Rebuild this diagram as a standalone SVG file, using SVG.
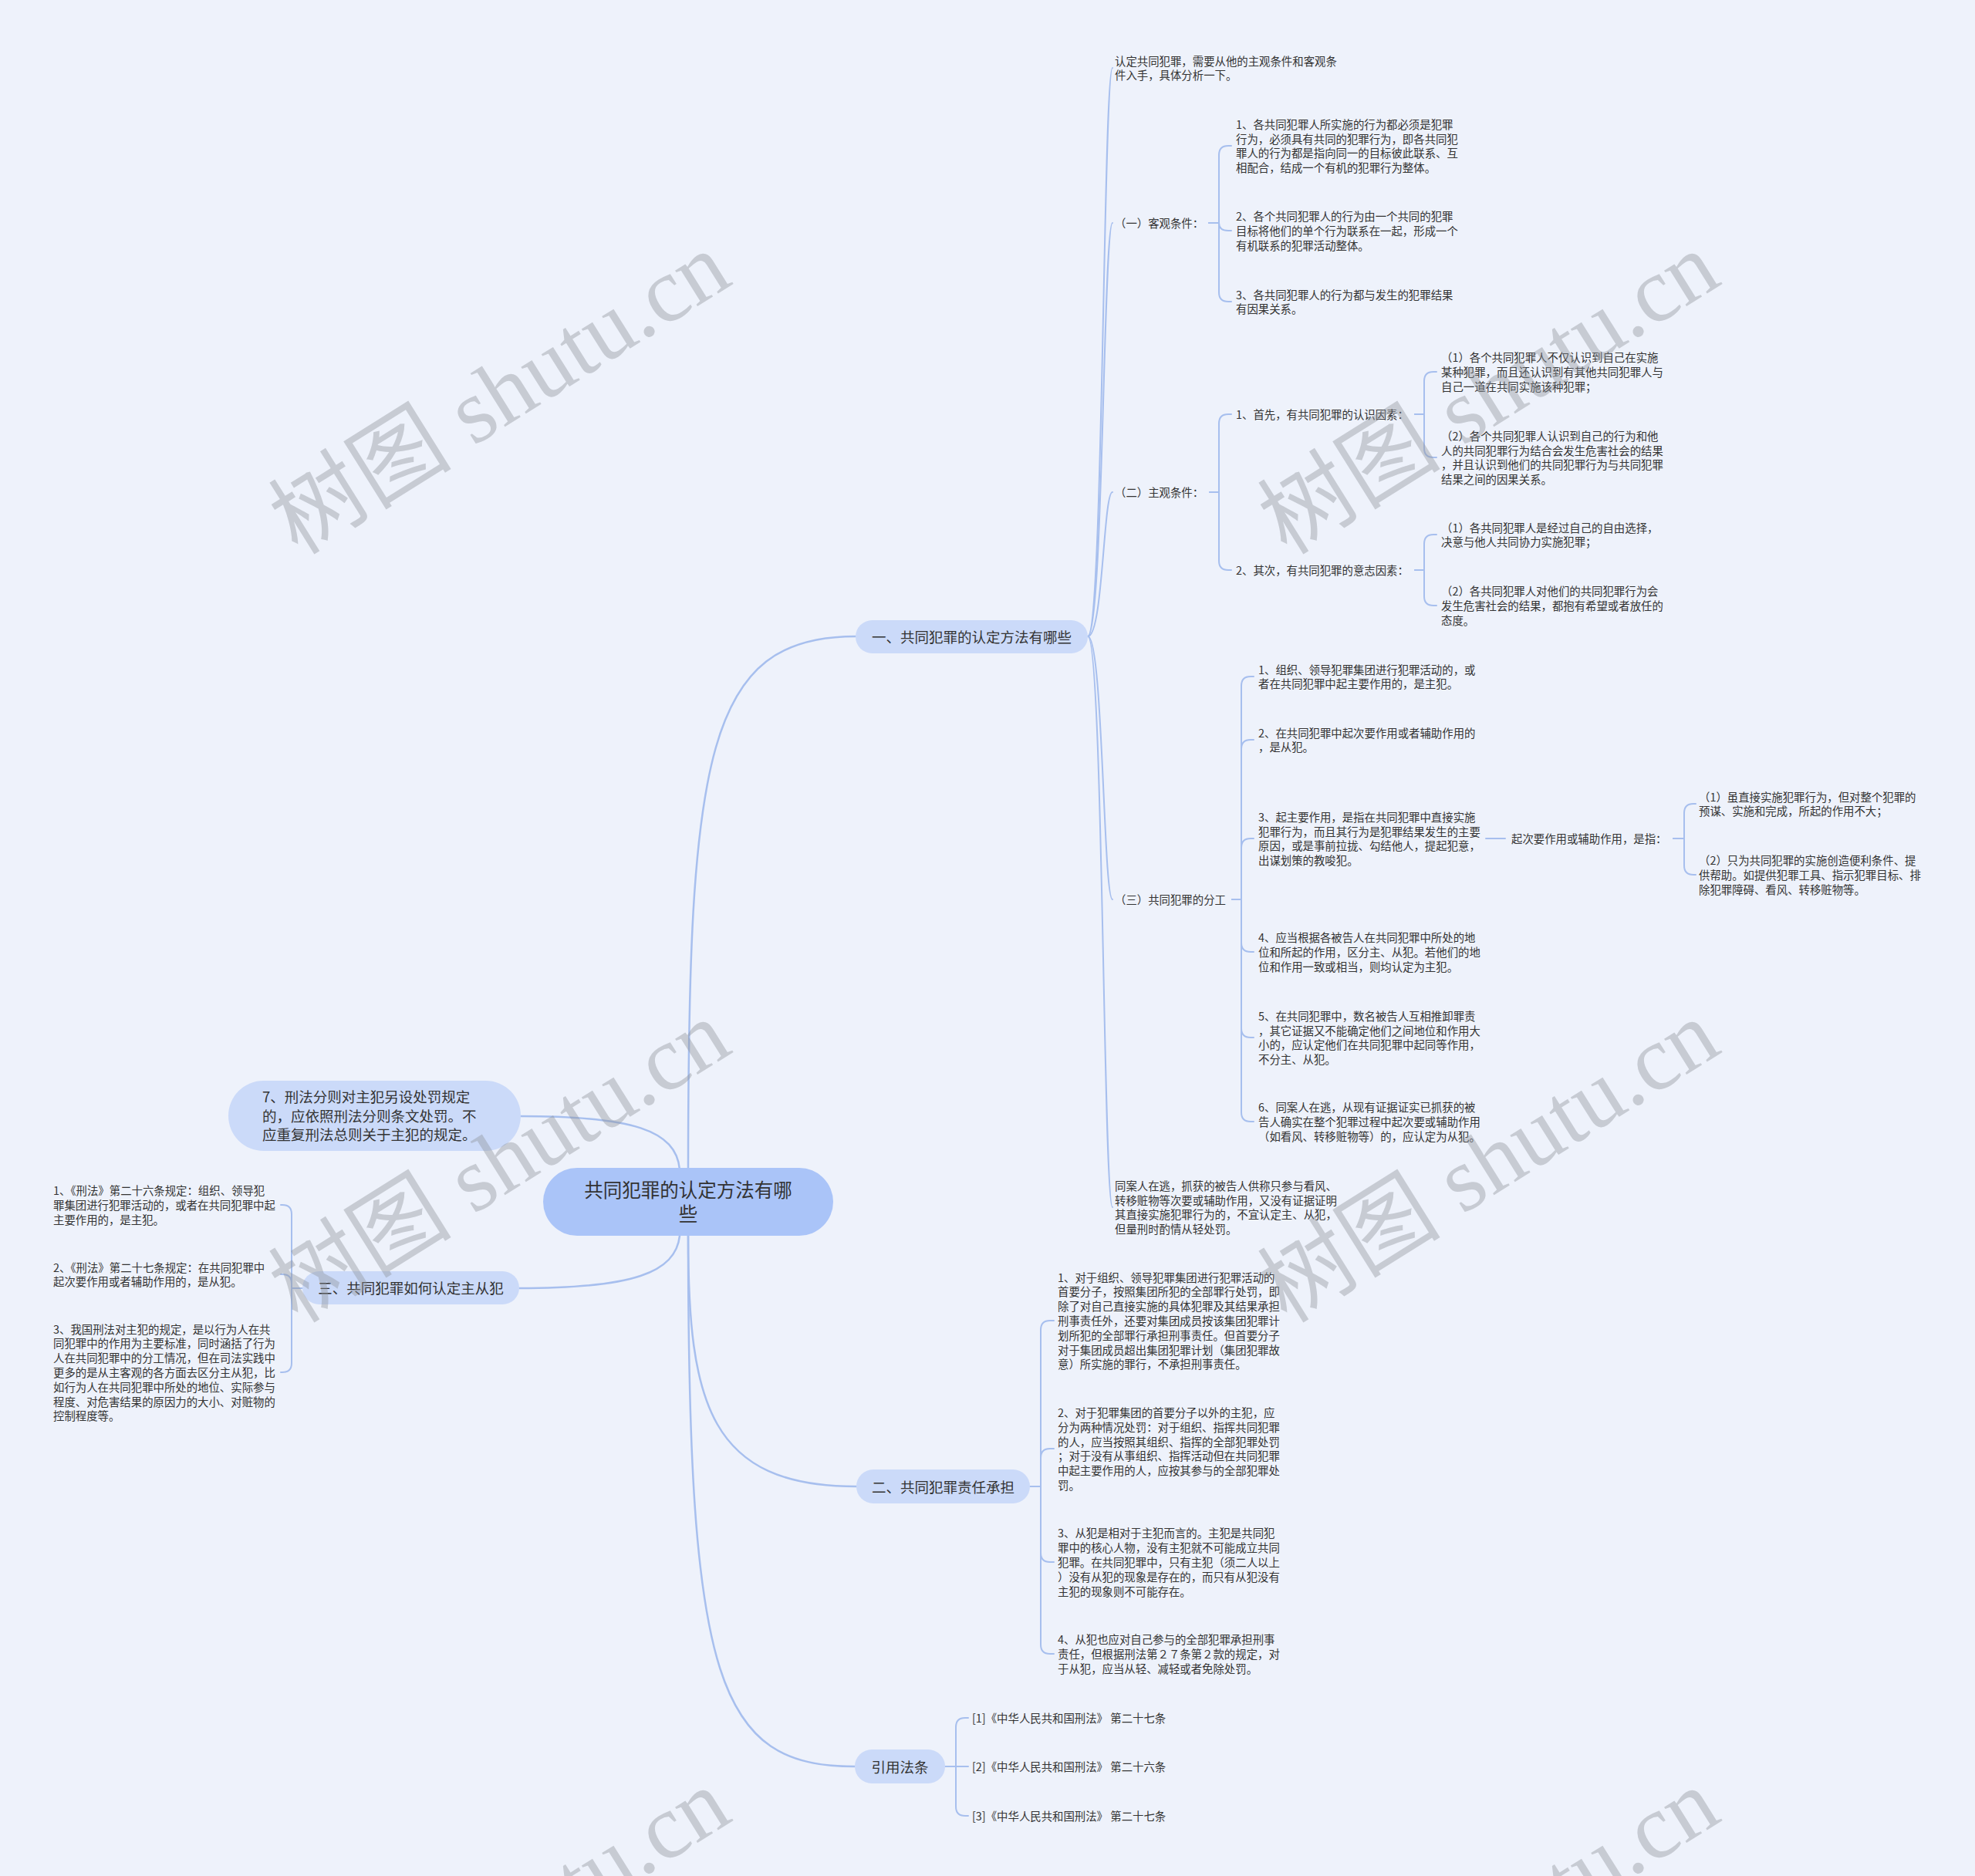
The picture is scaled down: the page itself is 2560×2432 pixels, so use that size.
<svg xmlns="http://www.w3.org/2000/svg" width="2560" height="2432" viewBox="0 0 2560 2432">
<style>
.c{fill:none;stroke:#a7bfee;stroke-width:2;stroke-linecap:round}
.cr{fill:none;stroke:#a7bfee;stroke-width:2.5;stroke-linecap:round}
.t{font-family:"Noto Sans CJK SC","Noto Sans",sans-serif;font-size:14.4px;fill:#333;dominant-baseline:central}
.b{font-size:18.5px;text-anchor:middle}
.bl{font-size:18.5px}
.r{font-size:24.5px;text-anchor:middle}
.p{fill:#cbdaf9}
.pr{fill:#aac4f8}
.wm{font-family:"Liberation Serif","Noto Sans CJK SC",serif;font-size:119px;fill:#8c9099;fill-opacity:0.4;text-anchor:middle;dominant-baseline:central}
</style>
<rect width="2560" height="2432" fill="#eef2fb"/>

<g id="connectors">
<path class="cr" d="M892,1516 C892,980 915,825 1109,825"/>
<path class="cr" d="M892,1602 C892,1820 920,1927 1110,1927"/>
<path class="cr" d="M892,1602 C892,2180 930,2290 1108,2290"/>
<path class="cr" d="M881,1516 C876,1465 820,1447 675,1447"/>
<path class="cr" d="M881,1602 C876,1650 820,1670 673,1670"/>

<path class="c" d="M1410,825 C1430,825 1430,88 1442,88"/>
<path class="c" d="M1410,825 C1430,825 1430,289 1442,289"/>
<path class="c" d="M1410,825 C1430,825 1430,638 1442,638"/>
<path class="c" d="M1410,825 C1430,825 1430,1166 1442,1166"/>
<path class="c" d="M1410,825 C1430,825 1430,1565 1442,1565"/>

<path class="c" d="M1567,289 H1580 V201 Q1580,189 1592,189 H1596"/>
<path class="c" d="M1567,289 H1580 Q1580,299 1592,299 H1596"/>
<path class="c" d="M1567,289 H1580 V379 Q1580,391 1592,391 H1596"/>

<path class="c" d="M1568,638 H1580 V549 Q1580,537 1592,537 H1596"/>
<path class="c" d="M1568,638 H1580 V727 Q1580,739 1592,739 H1596"/>
<path class="c" d="M1834,537 H1846 V494 Q1846,482 1858,482 H1862"/>
<path class="c" d="M1834,537 H1846 V581 Q1846,593 1858,593 H1862"/>
<path class="c" d="M1834,739 H1846 V705 Q1846,693 1858,693 H1862"/>
<path class="c" d="M1834,739 H1846 V773 Q1846,785 1858,785 H1862"/>

<path class="c" d="M1597,1166 H1609 V889 Q1609,877 1621,877 H1625"/>
<path class="c" d="M1597,1166 H1609 V971 Q1609,959 1621,959 H1625"/>
<path class="c" d="M1597,1166 H1609 V1099 Q1609,1087 1621,1087 H1625"/>
<path class="c" d="M1597,1166 H1609 V1222 Q1609,1234 1621,1234 H1625"/>
<path class="c" d="M1597,1166 H1609 V1333 Q1609,1345 1621,1345 H1625"/>
<path class="c" d="M1597,1166 H1609 V1442 Q1609,1454 1621,1454 H1625"/>
<path class="c" d="M1926,1087 H1951"/>
<path class="c" d="M2169,1087 H2183 V1054 Q2183,1042 2195,1042 H2198"/>
<path class="c" d="M2169,1087 H2183 V1122 Q2183,1134 2195,1134 H2198"/>

<path class="c" d="M1335,1927 H1349 V1724 Q1349,1712 1361,1712 H1366"/>
<path class="c" d="M1335,1927 H1349 V1890 Q1349,1878 1361,1878 H1366"/>
<path class="c" d="M1335,1927 H1349 V2013 Q1349,2025 1361,2025 H1366"/>
<path class="c" d="M1335,1927 H1349 V2132 Q1349,2144 1361,2144 H1366"/>

<path class="c" d="M1225,2290 H1239 V2239 Q1239,2227 1251,2227 H1255"/>
<path class="c" d="M1225,2290 H1255"/>
<path class="c" d="M1225,2290 H1239 V2342 Q1239,2354 1251,2354 H1255"/>

<path class="c" d="M392,1670 H378 V1574 Q378,1562 366,1562 H364"/>
<path class="c" d="M392,1670 H378 V1664 Q378,1652 366,1652 H364"/>
<path class="c" d="M392,1670 H378 V1767 Q378,1779 366,1779 H364"/>
</g>

<g id="root">
<rect class="pr" x="704" y="1514" width="376" height="88" rx="44"/>
<text class="t r"><tspan x="892" y="1541">共同犯罪的认定方法有哪</tspan><tspan x="892" y="1572">些</tspan></text>
</g>

<g id="branch1">
<rect class="p" x="1109" y="804" width="301" height="43" rx="21.5"/>
<text class="t b" x="1259.5" y="825">一、共同犯罪的认定方法有哪些</text>
</g>
<g id="n-a"><text class="t"><tspan x="1445" y="77.6">认定共同犯罪，需要从他的主观条件和客观条</tspan><tspan x="1445" y="96.4">件入手，具体分析一下。</tspan></text></g>
<g id="n-b"><text class="t" x="1445" y="288">（一）客观条件：</text></g>
<g id="n-b1"><text class="t"><tspan x="1602" y="159.8">1、各共同犯罪人所实施的行为都必须是犯罪</tspan><tspan x="1602" y="178.6">行为，必须具有共同的犯罪行为，即各共同犯</tspan><tspan x="1602" y="197.4">罪人的行为都是指向同一的目标彼此联系、互</tspan><tspan x="1602" y="216.2">相配合，结成一个有机的犯罪行为整体。</tspan></text></g>
<g id="n-b2"><text class="t"><tspan x="1602" y="279.2">2、各个共同犯罪人的行为由一个共同的犯罪</tspan><tspan x="1602" y="298">目标将他们的单个行为联系在一起，形成一个</tspan><tspan x="1602" y="316.8">有机联系的犯罪活动整体。</tspan></text></g>
<g id="n-b3"><text class="t"><tspan x="1602" y="380.6">3、各共同犯罪人的行为都与发生的犯罪结果</tspan><tspan x="1602" y="399.4">有因果关系。</tspan></text></g>

<g id="n-c"><text class="t" x="1445" y="637">（二）主观条件：</text></g>
<g id="n-c1"><text class="t" x="1602" y="536">1、首先，有共同犯罪的认识因素：</text></g>
<g id="n-c1a"><text class="t"><tspan x="1868" y="462.2">（1）各个共同犯罪人不仅认识到自己在实施</tspan><tspan x="1868" y="481">某种犯罪，而且还认识到有其他共同犯罪人与</tspan><tspan x="1868" y="499.8">自己一道在共同实施该种犯罪；</tspan></text></g>
<g id="n-c1b"><text class="t"><tspan x="1868" y="563.8">（2）各个共同犯罪人认识到自己的行为和他</tspan><tspan x="1868" y="582.6">人的共同犯罪行为结合会发生危害社会的结果</tspan><tspan x="1868" y="601.4">，并且认识到他们的共同犯罪行为与共同犯罪</tspan><tspan x="1868" y="620.2">结果之间的因果关系。</tspan></text></g>
<g id="n-c2"><text class="t" x="1602" y="738">2、其次，有共同犯罪的意志因素：</text></g>
<g id="n-c2a"><text class="t"><tspan x="1868" y="682.6">（1）各共同犯罪人是经过自己的自由选择，</tspan><tspan x="1868" y="701.4">决意与他人共同协力实施犯罪；</tspan></text></g>
<g id="n-c2b"><text class="t"><tspan x="1868" y="765.2">（2）各共同犯罪人对他们的共同犯罪行为会</tspan><tspan x="1868" y="784">发生危害社会的结果，都抱有希望或者放任的</tspan><tspan x="1868" y="802.8">态度。</tspan></text></g>

<g id="n-d"><text class="t" x="1445" y="1165">（三）共同犯罪的分工</text></g>
<g id="n-d1"><text class="t"><tspan x="1631" y="866.6">1、组织、领导犯罪集团进行犯罪活动的，或</tspan><tspan x="1631" y="885.4">者在共同犯罪中起主要作用的，是主犯。</tspan></text></g>
<g id="n-d2"><text class="t"><tspan x="1631" y="948.6">2、在共同犯罪中起次要作用或者辅助作用的</tspan><tspan x="1631" y="967.4">，是从犯。</tspan></text></g>
<g id="n-d3"><text class="t"><tspan x="1631" y="1057.8">3、起主要作用，是指在共同犯罪中直接实施</tspan><tspan x="1631" y="1076.6">犯罪行为，而且其行为是犯罪结果发生的主要</tspan><tspan x="1631" y="1095.4">原因，或是事前拉拢、勾结他人，提起犯意，</tspan><tspan x="1631" y="1114.2">出谋划策的教唆犯。</tspan></text></g>
<g id="n-d3x"><text class="t" x="1959" y="1086">起次要作用或辅助作用，是指：</text></g>
<g id="n-d3x1"><text class="t"><tspan x="2202" y="1031.6">（1）虽直接实施犯罪行为，但对整个犯罪的</tspan><tspan x="2202" y="1050.4">预谋、实施和完成，所起的作用不大；</tspan></text></g>
<g id="n-d3x2"><text class="t"><tspan x="2202" y="1114.2">（2）只为共同犯罪的实施创造便利条件、提</tspan><tspan x="2202" y="1133">供帮助。如提供犯罪工具、指示犯罪目标、排</tspan><tspan x="2202" y="1151.8">除犯罪障碍、看风、转移赃物等。</tspan></text></g>
<g id="n-d4"><text class="t"><tspan x="1631" y="1214.2">4、应当根据各被告人在共同犯罪中所处的地</tspan><tspan x="1631" y="1233">位和所起的作用，区分主、从犯。若他们的地</tspan><tspan x="1631" y="1251.8">位和作用一致或相当，则均认定为主犯。</tspan></text></g>
<g id="n-d5"><text class="t"><tspan x="1631" y="1315.8">5、在共同犯罪中，数名被告人互相推卸罪责</tspan><tspan x="1631" y="1334.6">，其它证据又不能确定他们之间地位和作用大</tspan><tspan x="1631" y="1353.4">小的，应认定他们在共同犯罪中起同等作用，</tspan><tspan x="1631" y="1372.2">不分主、从犯。</tspan></text></g>
<g id="n-d6"><text class="t"><tspan x="1631" y="1434.2">6、同案人在逃，从现有证据证实已抓获的被</tspan><tspan x="1631" y="1453">告人确实在整个犯罪过程中起次要或辅助作用</tspan><tspan x="1631" y="1471.8">（如看风、转移赃物等）的，应认定为从犯。</tspan></text></g>
<g id="n-e"><text class="t"><tspan x="1445" y="1535.8">同案人在逃，抓获的被告人供称只参与看风、</tspan><tspan x="1445" y="1554.6">转移赃物等次要或辅助作用，又没有证据证明</tspan><tspan x="1445" y="1573.4">其直接实施犯罪行为的，不宜认定主、从犯，</tspan><tspan x="1445" y="1592.2">但量刑时酌情从轻处罚。</tspan></text></g>

<g id="branch2">
<rect class="p" x="1110" y="1905" width="225" height="44" rx="22"/>
<text class="t b" x="1222.5" y="1926.5">二、共同犯罪责任承担</text>
</g>
<g id="n-f1"><text class="t"><tspan x="1371" y="1654.6">1、对于组织、领导犯罪集团进行犯罪活动的</tspan><tspan x="1371" y="1673.4">首要分子，按照集团所犯的全部罪行处罚，即</tspan><tspan x="1371" y="1692.2">除了对自己直接实施的具体犯罪及其结果承担</tspan><tspan x="1371" y="1711">刑事责任外，还要对集团成员按该集团犯罪计</tspan><tspan x="1371" y="1729.8">划所犯的全部罪行承担刑事责任。但首要分子</tspan><tspan x="1371" y="1748.6">对于集团成员超出集团犯罪计划（集团犯罪故</tspan><tspan x="1371" y="1767.4">意）所实施的罪行，不承担刑事责任。</tspan></text></g>
<g id="n-f2"><text class="t"><tspan x="1371" y="1830">2、对于犯罪集团的首要分子以外的主犯，应</tspan><tspan x="1371" y="1848.8">分为两种情况处罚：对于组织、指挥共同犯罪</tspan><tspan x="1371" y="1867.6">的人，应当按照其组织、指挥的全部犯罪处罚</tspan><tspan x="1371" y="1886.4">；对于没有从事组织、指挥活动但在共同犯罪</tspan><tspan x="1371" y="1905.2">中起主要作用的人，应按其参与的全部犯罪处</tspan><tspan x="1371" y="1924">罚。</tspan></text></g>
<g id="n-f3"><text class="t"><tspan x="1371" y="1986.4">3、从犯是相对于主犯而言的。主犯是共同犯</tspan><tspan x="1371" y="2005.2">罪中的核心人物，没有主犯就不可能成立共同</tspan><tspan x="1371" y="2024">犯罪。在共同犯罪中，只有主犯（须二人以上</tspan><tspan x="1371" y="2042.8">）没有从犯的现象是存在的，而只有从犯没有</tspan><tspan x="1371" y="2061.6">主犯的现象则不可能存在。</tspan></text></g>
<g id="n-f4"><text class="t"><tspan x="1371" y="2124.2">4、从犯也应对自己参与的全部犯罪承担刑事</tspan><tspan x="1371" y="2143">责任，但根据刑法第２７条第２款的规定，对</tspan><tspan x="1371" y="2161.8">于从犯，应当从轻、减轻或者免除处罚。</tspan></text></g>

<g id="branch-ref">
<rect class="p" x="1108" y="2268" width="117" height="44" rx="22"/>
<text class="t b" x="1166.5" y="2289.5">引用法条</text>
</g>
<g id="n-g1"><text class="t" x="1260" y="2226">[1]《中华人民共和国刑法》 第二十七条</text></g>
<g id="n-g2"><text class="t" x="1260" y="2289">[2]《中华人民共和国刑法》 第二十六条</text></g>
<g id="n-g3"><text class="t" x="1260" y="2353">[3]《中华人民共和国刑法》 第二十七条</text></g>

<g id="branch7">
<rect class="p" x="296" y="1401" width="379" height="91" rx="45.5"/>
<text class="t bl"><tspan x="340" y="1421">7、刑法分则对主犯另设处罚规定</tspan><tspan x="340" y="1445.5">的，应依照刑法分则条文处罚。不</tspan><tspan x="340" y="1470">应重复刑法总则关于主犯的规定。</tspan></text>
</g>

<g id="branch3">
<rect class="p" x="392" y="1648" width="281" height="43" rx="21.5"/>
<text class="t b" x="532.5" y="1669">三、共同犯罪如何认定主从犯</text>
</g>
<g id="n-h1"><text class="t"><tspan x="69" y="1542.2">1、《刑法》第二十六条规定：组织、领导犯</tspan><tspan x="69" y="1561">罪集团进行犯罪活动的，或者在共同犯罪中起</tspan><tspan x="69" y="1579.8">主要作用的，是主犯。</tspan></text></g>
<g id="n-h2"><text class="t"><tspan x="69" y="1641.6">2、《刑法》第二十七条规定：在共同犯罪中</tspan><tspan x="69" y="1660.4">起次要作用或者辅助作用的，是从犯。</tspan></text></g>
<g id="n-h3"><text class="t"><tspan x="69" y="1721.6">3、我国刑法对主犯的规定，是以行为人在共</tspan><tspan x="69" y="1740.4">同犯罪中的作用为主要标准，同时涵括了行为</tspan><tspan x="69" y="1759.2">人在共同犯罪中的分工情况，但在司法实践中</tspan><tspan x="69" y="1778">更多的是从主客观的各方面去区分主从犯，比</tspan><tspan x="69" y="1796.8">如行为人在共同犯罪中所处的地位、实际参与</tspan><tspan x="69" y="1815.6">程度、对危害结果的原因力的大小、对赃物的</tspan><tspan x="69" y="1834.4">控制程度等。</tspan></text></g>

<g id="watermark">
<text class="wm" transform="translate(648,510) rotate(-32)">树图 shutu.cn</text>
<text class="wm" transform="translate(1930,510) rotate(-32)">树图 shutu.cn</text>
<text class="wm" transform="translate(648,1506) rotate(-32)">树图 shutu.cn</text>
<text class="wm" transform="translate(1930,1506) rotate(-32)">树图 shutu.cn</text>
<text class="wm" transform="translate(648,2502) rotate(-32)">树图 shutu.cn</text>
<text class="wm" transform="translate(1930,2502) rotate(-32)">树图 shutu.cn</text>
</g>
</svg>
